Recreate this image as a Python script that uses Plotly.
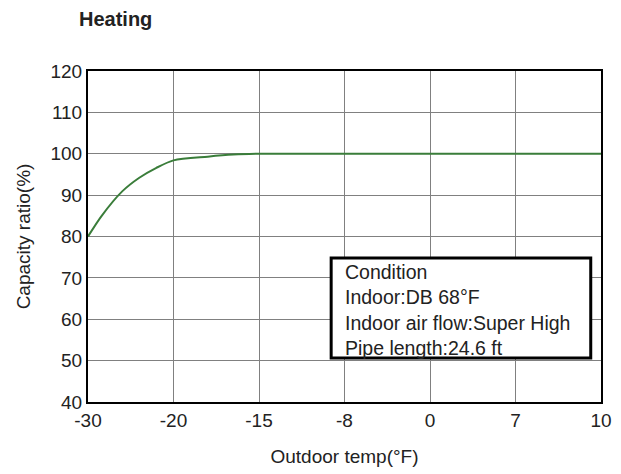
import numpy as np
import plotly.graph_objects as go

# Tick categories (equally spaced on the axis)
tick_temps = [-30, -20, -15, -8, 0, 7, 10]
tick_labels = ["-30", "-20", "-15", "-8", "0", "7", "10"]

# Curve data (outdoor temp °F, capacity ratio %)
curve_temps = [-30, -28.4, -26, -24, -22, -20, -18, -16.5, -15, -8, 0, 7, 10]
curve_ratio = [80, 85.0, 90.9, 94.2, 96.6, 98.4, 99.3, 99.8, 100, 100, 100, 100, 100]

y_ticks = [40, 50, 60, 70, 80, 90, 100, 110, 120]

condition_lines = ["Condition", "Indoor:DB 68°F", "Indoor air flow:Super High", "Pipe length:24.6 ft"]

# Map temperatures onto equally spaced axis positions
idx = np.arange(len(tick_temps))
curve_x = np.interp(curve_temps, tick_temps, idx)

fig = go.Figure()
fig.add_trace(go.Scatter(
    x=curve_x, y=curve_ratio, mode="lines",
    line=dict(color="#3a7d3a", width=2, shape="spline", smoothing=0.8),
    showlegend=False, hoverinfo="skip"))

font_family = "Liberation Sans, Arial, sans-serif"
txt = "#222"

fig.update_layout(
    width=621, height=474,
    margin=dict(l=80, r=28, t=63, b=80),
    paper_bgcolor="white", plot_bgcolor="white",
    font=dict(family=font_family, color=txt, size=19),
    title=dict(text="<b>Heating</b>", xref="container", yref="container",
               x=71 / 621, y=1.0 - 4 / 474, xanchor="left", yanchor="top",
               pad=dict(t=0, l=0, r=0, b=0),
               font=dict(size=20, color=txt, family=font_family)),
    xaxis=dict(
        range=[0, len(tick_temps) - 1],
        tickmode="array", tickvals=list(idx), ticktext=tick_labels,
        showgrid=True, gridcolor="#808080", gridwidth=1,
        showline=True, linecolor="black", linewidth=2, mirror=True,
        ticks="", zeroline=False,
        tickfont=dict(size=19, color=txt),
        title=dict(text="Outdoor temp(°F)", font=dict(size=19, color=txt), standoff=20),
    ),
    yaxis=dict(
        range=[40, 120],
        tickmode="array", tickvals=y_ticks,
        showgrid=True, gridcolor="#808080", gridwidth=1,
        showline=True, linecolor="black", linewidth=2, mirror=True,
        ticks="", zeroline=False,
        tickfont=dict(size=19, color=txt),
        title=dict(text="Capacity ratio(%)", font=dict(size=19, color=txt), standoff=15),
    ),
)

# Condition box
fig.add_shape(type="rect", xref="paper", yref="paper",
              x0=0.474, x1=0.98, y0=0.133, y1=0.435,
              line=dict(color="black", width=3), fillcolor="white", layer="above")
fig.add_annotation(text="<br>".join(condition_lines), xref="paper", yref="paper",
                   x=0.498, y=0.278, xanchor="left", yanchor="middle", align="left",
                   showarrow=False, font=dict(size=19.5, color=txt, family=font_family))

fig.write_html("out.html")
